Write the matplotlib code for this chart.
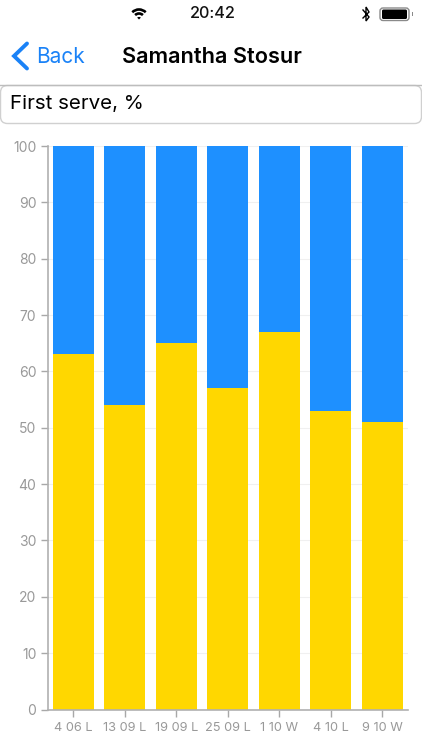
# -*- coding: utf-8 -*-
import matplotlib
matplotlib.use('Agg')
import matplotlib.pyplot as plt
from matplotlib.patches import FancyBboxPatch, Arc, Wedge, Rectangle

plt.rcParams['font.family'] = ['Inter', 'DejaVu Sans']

# data
matches = ['4 06 L', '13 09 L', '19 09 L', '25 09 L', '1 10 W', '4 10 L', '9 10 W']
first_serve = [63, 54, 65, 57, 67, 53, 51]
second_part = [37, 46, 35, 43, 33, 47, 49]
y_ticks = [0, 10, 20, 30, 40, 50, 60, 70, 80, 90, 100]

W, H = 422, 750
fig = plt.figure(figsize=(W / 100, H / 100), dpi=100, facecolor='white')

# chart
ax = fig.add_axes([47.5 / W, 1 - 709.5 / H, 360.5 / W, 563.5 / H])
x = range(len(matches))
ax.bar(x, first_serve, width=0.8, color='#FFD700', zorder=2)
ax.bar(x, second_part, width=0.8, bottom=first_serve, color='#1E90FF', zorder=2)
ax.set_xlim(-0.5, len(matches) - 0.5)
ax.set_ylim(0, 100)
ax.set_yticks(y_ticks)
ax.set_xticks(list(x))
ax.set_xticklabels(matches)
ax.grid(axis='y', color='#F0F0F0', lw=0.8, zorder=0)
ax.set_axisbelow(True)
ax.tick_params(axis='both', color='#A8A8A8', labelcolor='#999999', labelsize=10, length=5, width=1, pad=3)
ax.tick_params(axis='x', labelsize=9.2, pad=4)
for s in ['top', 'right']:
    ax.spines[s].set_visible(False)
for s in ['left', 'bottom']:
    ax.spines[s].set_color('#B0B0B0')
    ax.spines[s].set_linewidth(1.2)

# phone screen around the chart, in pixels
ui = fig.add_axes([0, 0, 1, 1], zorder=5)
ui.set_xlim(0, W)
ui.set_ylim(H, 0)
ui.axis('off')
ui.patch.set_alpha(0)

blue = '#1A82F7'
ui.text(212.5, 14, '20:42', ha='center', va='center', fontsize=11.7, fontweight='medium', color='#111111')

# wifi
for r in [5.5, 9.5]:
    ui.add_patch(Arc((139, 19), r * 2, r * 2, theta1=225, theta2=315, color='black', lw=1.9))
ui.add_patch(Wedge((139, 19.5), 2.6, 225, 315, color='black', lw=0))

# bluetooth
ui.plot([363, 369, 366, 366, 369, 363], [10, 17, 21, 7, 12, 18], color='black', lw=1, solid_joinstyle='miter')

# battery
ui.add_patch(FancyBboxPatch((380, 8), 29, 12.5, boxstyle='round,pad=0,rounding_size=3',
                            fc='white', ec='#8A8A8A', lw=1))
ui.add_patch(FancyBboxPatch((382, 9.5), 25, 9.5, boxstyle='round,pad=0,rounding_size=1.5',
                            fc='black', ec='none'))
ui.add_patch(Rectangle((411.5, 12), 1.2, 4, fc='#8A8A8A', ec='none'))

# nav bar
ui.plot([27, 14, 27], [43.5, 56, 68.5], color=blue, lw=2.8, solid_capstyle='round', solid_joinstyle='miter')
ui.text(36.5, 57, 'Back', ha='left', va='center', fontsize=15, color=blue)
ui.text(211.5, 57, 'Samantha Stosur', ha='center', va='center', fontsize=15.6, fontweight='semibold', color='black')
ui.plot([0, W], [84.5, 84.5], color='#BDBDBD', lw=1)

# text field
ui.add_patch(FancyBboxPatch((0.5, 85.5), 421, 38, boxstyle='round,pad=0,rounding_size=7',
                            fc='white', ec='#D0D0D0', lw=1))
ui.text(10, 104.5, 'First serve, %', ha='left', va='center', fontsize=14.8, color='black')

fig.savefig('out.png', dpi=100)
